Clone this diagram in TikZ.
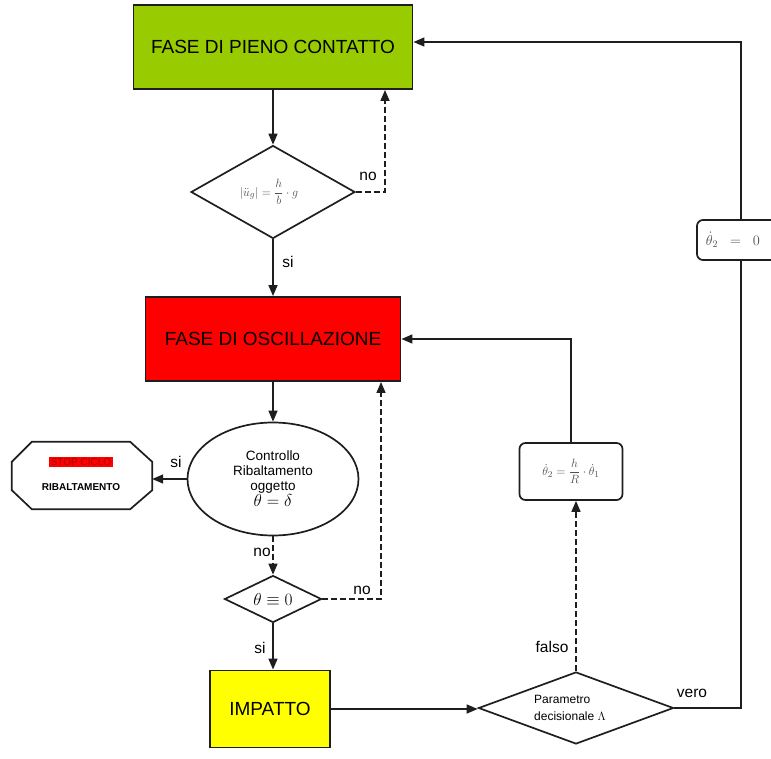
\documentclass[tikz,border=0pt]{standalone}
\usepackage{fontspec}
\setmainfont{Liberation Sans}
\usetikzlibrary{shapes.geometric,arrows.meta,calc}
\definecolor{fgreen}{RGB}{153,204,0}
\definecolor{fred}{RGB}{255,0,0}
\definecolor{fyellow}{RGB}{255,255,0}
\definecolor{edge}{RGB}{30,30,30}
\definecolor{formula}{RGB}{80,80,80}
\tikzset{
  phase/.style={draw=edge, line width=1.9pt, inner sep=0pt, font=\fontsize{19}{22}\selectfont},
  decision/.style={diamond, draw=edge, line width=1.7pt, inner sep=0pt},
  roundbox/.style={draw=edge, line width=1.7pt, rounded corners=6pt, inner sep=0pt},
  flow/.style={draw=edge, line width=1.5pt, -{Triangle[length=11pt,width=9pt]}},
  flowdash/.style={flow, dash pattern=on 6pt off 3pt},
  plainline/.style={draw=edge, line width=1.5pt},
  lbl/.style={font=\fontsize{15.5}{18}\selectfont, inner sep=0pt}
}
\begin{document}
\begin{tikzpicture}[x=1pt,y=-1pt]
\useasboundingbox (0,0) rectangle (771,758);
\clip (0,0) rectangle (771,758);

% phases
\node[phase, fill=fgreen, minimum width=279pt, minimum height=84pt] (green) at (273,47) {FASE DI PIENO CONTATTO};
\node[phase, fill=fred, minimum width=255pt, minimum height=84pt] (red) at (273,339) {FASE DI OSCILLAZIONE};
\node[phase, fill=fyellow, minimum width=120pt, minimum height=77pt] (imp) at (270,709) {IMPATTO};

% decisions
\node[decision, aspect=1.76, minimum width=164pt, minimum height=93pt, text=formula] (d1) at (273,192)
  {\fontsize{12.5}{14}\selectfont$\displaystyle\left|\ddot u_g\right| = \frac{h}{b}\cdot g$\hspace*{8pt}};
\node[ellipse, draw=edge, line width=1.7pt, minimum width=171pt, minimum height=113pt, align=center, inner sep=0pt,
  font=\fontsize{13.5}{15}\selectfont] (ell) at (273,479)
  {Controllo\\Ribaltamento\\oggetto\\[1pt]{\fontsize{16}{18}\selectfont$\theta=\delta$}};
\node[decision, aspect=2, minimum width=97pt, minimum height=47pt] (d2) at (273,599)
  {\fontsize{16}{18}\selectfont$\theta\equiv0$};
\node[decision, aspect=2.7, minimum width=195pt, minimum height=72pt, align=left, font=\fontsize{12}{17}\selectfont] (d3) at (576,708)
  {Parametro\\decisionale $\Lambda$\hspace*{12pt}};

% rounded boxes
\node[roundbox, minimum width=103pt, minimum height=57pt, text=formula] (rb) at (571,471.5)
  {\fontsize{12.5}{14}\selectfont$\displaystyle\dot\theta_2=\frac{h}{R}\cdot\dot\theta_1$};
\node[roundbox, minimum width=88pt, minimum height=40pt, text=formula] (zb) at (741,240)
  {\fontsize{14}{16}\selectfont$\dot\theta_2\;\;=\;\;0$\hspace*{16pt}};

% octagon stop
\node[minimum width=140pt, minimum height=67pt, inner sep=0pt] (oct) at (82,475.5) {};
\draw[draw=edge, line width=1.7pt]
  ($(oct.north west)+(20,0)$) -- ($(oct.north east)+(-22,0)$) -- ($(oct.north east)+(0,20)$)
  -- ($(oct.south east)+(0,-19)$) -- ($(oct.south east)+(-22,0)$) -- ($(oct.south west)+(20,0)$)
  -- ($(oct.south west)+(0,-19)$) -- ($(oct.north west)+(0,20)$) -- cycle;
\node[fill=fred, text=red!65!black, inner sep=1.5pt, font=\fontsize{10}{12}\selectfont] (stop) at (81,462) {STOP CICLO};
\node[font=\bfseries\fontsize{10}{12}\selectfont, inner sep=0pt] (ribal) at (81,487) {RIBALTAMENTO};

% connectors
\draw[flow] (green.south) -- (d1.north);
\draw[flowdash] (d1.east) -| ([xshift=112pt]green.south);
\node[lbl] (no1) at (368,176) {no};

\draw[flow] (d1.south) -- (red.north);
\node[lbl] (si1) at (288,262) {si};

\draw[flow] (red.south) -- (ell.north);
\draw[flow] (ell.west) -- (ell.west -| oct.east);
\node[lbl] (si2) at (176,462) {si};

\draw[flowdash] (ell.south) -- (d2.north);
\node[lbl] (no2) at (262,552) {no};
\draw[flowdash] (d2.east) -| ([xshift=108pt]red.south);
\node[lbl] (no3) at (362,590) {no};

\draw[flow] (d2.south) -- (d2.south |- imp.north);
\node[lbl] (si3) at (260,648) {si};

\draw[flow] (imp.east) -- (imp.east -| d3.west);

\draw[flowdash] (d3.north) -- (d3.north |- rb.south);
\node[lbl] (falso) at (552,647) {falso};
\draw[flow] (rb.north) |- (red.east);

\draw[plainline] (d3.east) -| (zb.south);
\node[lbl] (vero) at (692,693) {vero};
\draw[flow] (zb.north) |- ([yshift=5pt]green.east);

\end{tikzpicture}
\end{document}
